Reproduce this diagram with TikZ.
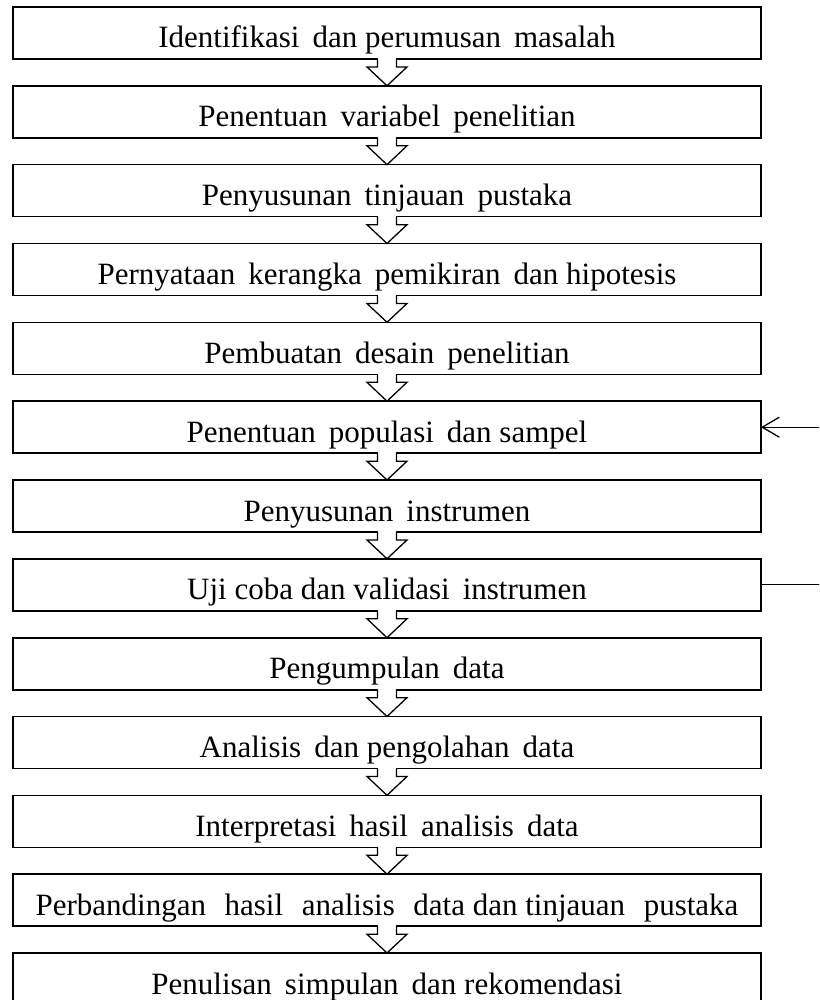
\documentclass[tikz,border=0pt]{standalone}
\usepackage{fontspec}
\setmainfont{Liberation Serif}
\usetikzlibrary{calc,arrows.meta}
\newcommand{\wsp}{\hspace{0.42em}}
\newcommand{\wwsp}{\hspace{0.6em}}
\begin{document}
\begin{tikzpicture}[x=1pt,y=1pt,
  stage/.style={draw, line width=1.6pt, minimum width=748pt, minimum height=52pt,
    inner sep=0pt, outer sep=0pt, text height=30pt, text depth=0pt,
    font=\fontsize{31}{36}\selectfont},
  blockarrow/.style={draw, line width=1.3pt, line join=miter},
  feedback/.style={draw, line width=1.3pt,
    -{Straight Barb[length=17pt,width=20pt,line width=1.3pt]}}
]
\useasboundingbox (0,0) rectangle (819,-1000);
\clip (0,0) rectangle (819,-1000);

\node[stage] (b1)  at (387,-33.0)  {Identifikasi\wsp dan perumusan\wsp masalah};
\node[stage] (b2)  at (387,-111.8) {Penentuan\wsp variabel\wsp penelitian};
\node[stage] (b3)  at (387,-190.7) {Penyusunan\wsp tinjauan\wsp pustaka};
\node[stage] (b4)  at (387,-269.5) {Pernyataan\wsp kerangka\wsp pemikiran\wsp dan hipotesis};
\node[stage] (b5)  at (387,-348.3) {Pembuatan\wsp desain\wsp penelitian};
\node[stage] (b6)  at (387,-427.2) {Penentuan\wsp populasi\wsp dan sampel};
\node[stage] (b7)  at (387,-506.0) {Penyusunan\wsp instrumen};
\node[stage] (b8)  at (387,-584.8) {Uji coba dan validasi\wsp instrumen};
\node[stage] (b9)  at (387,-663.7) {Pengumpulan\wsp data};
\node[stage] (b10) at (387,-742.5) {Analisis\wsp dan pengolahan\wsp data};
\node[stage] (b11) at (387,-821.3) {Interpretasi\wsp hasil\wsp analisis\wsp data};
\node[stage] (b12) at (387,-900.2) {Perbandingan\wwsp hasil\wwsp analisis\wwsp data dan tinjauan\wwsp pustaka};
\node[stage] (b13) at (387,-979.0) {Penulisan\wsp simpulan\wsp dan rekomendasi};

\foreach \a/\b in {b1/b2,b2/b3,b3/b4,b4/b5,b5/b6,b6/b7,b7/b8,b8/b9,b9/b10,b10/b11,b11/b12,b12/b13}{
  \fill[white] ($(\a.south)+(-8.8,1.2)$) rectangle ($(\a.south)+(8.8,-1.2)$);
  \draw[blockarrow] ($(\a.south)+(-9.5,0)$) -- ++(0,-8) -- ++(-10.5,0) -- (\b.north)
    -- ($(\a.south)+(20,-8)$) -- ++(-10.5,0) -- ++(0,8);
}

\coordinate (fbx) at (845,0);
\draw[feedback] (b8.east) -- (b8.east -| fbx) |- (b6.east);
\end{tikzpicture}
\end{document}
